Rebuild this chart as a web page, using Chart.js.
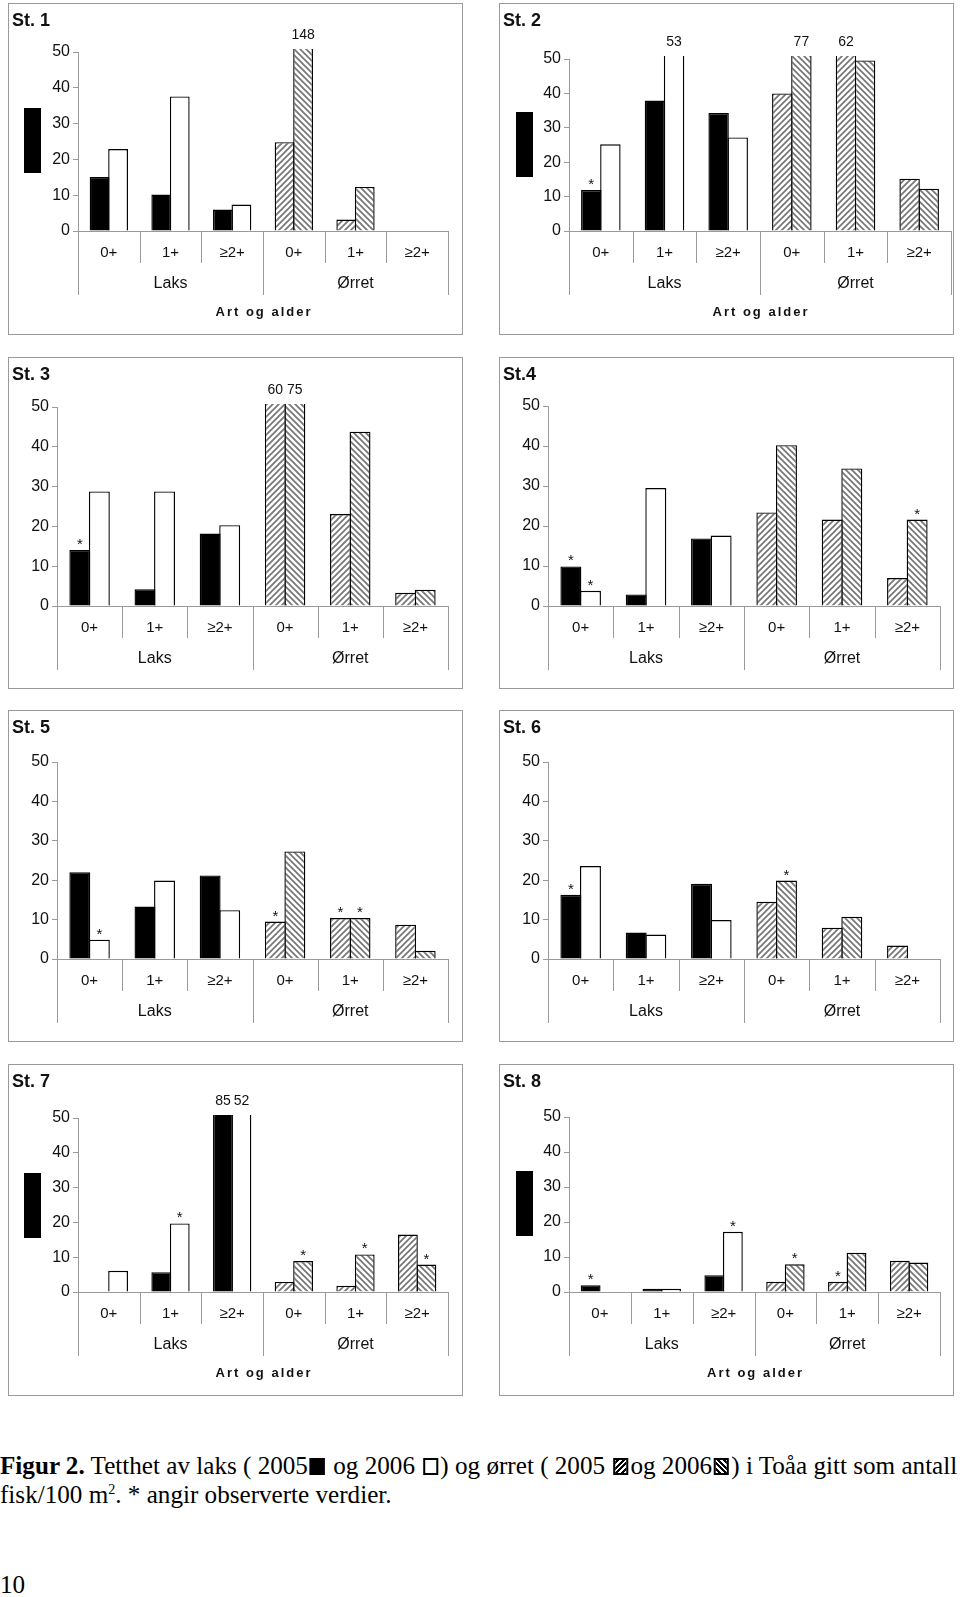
<!DOCTYPE html>
<html>
<head>
<meta charset="utf-8">
<script src="https://cdn.jsdelivr.net/npm/chart.js@4.4.0/dist/chart.umd.min.js"></script>
<style>
html, body { margin: 0; padding: 0; background: #fff; }
#page { position: relative; width: 960px; height: 1597px; overflow: hidden; font-family: Arial, "Liberation Sans", sans-serif; }
.panel { position: absolute; width: 455px; height: 332px; background: #fff; }
.panel canvas { position: absolute; left: 0; top: 0; }
.frame { position: absolute; left: 0; top: 0; width: 455px; height: 332px; box-sizing: border-box; border: 1px solid #9a9a9a; pointer-events: none; }
.stname { position: absolute; left: 4px; top: 7px; font: bold 18px Arial, "Liberation Sans", sans-serif; color: #111; }
.blot { position: absolute; background: #000; width: 17px; height: 65px; }
#caption { position: absolute; left: 0; top: 1451px; font-family: "Liberation Serif", "Times New Roman", serif; font-size: 25px; line-height: 29px; white-space: nowrap; transform-origin: 0 0; color: #000; }
#caption sup { font-size: 14px; line-height: 0; }
.sw { display: inline-block; width: 15px; height: 17px; box-sizing: border-box; border: 2px solid #000; vertical-align: -1px; margin: 0 2px; }
.sw-black { background: #000; }
.sw-white { background: #fff; }
.sw-h1 { background: repeating-linear-gradient(-45deg, #fff 0 2px, #000 2px 4px); }
.sw-h2 { background: repeating-linear-gradient(45deg, #fff 0 2px, #000 2px 4px); }
#pageno { position: absolute; left: 0; top: 1570px; font-family: "Liberation Serif", "Times New Roman", serif; font-size: 25px; line-height: 29px; transform-origin: 0 0; }
</style>
</head>
<body>
<div id="page">
  <div id="caption">
    <div id="cap1"><b>Figur 2.</b> Tetthet av laks ( 2005<span class="sw sw-black"></span> og 2006 <span class="sw sw-white"></span>) og ørret ( 2005 <span class="sw sw-h1"></span>og 2006<span class="sw sw-h2"></span>) i Toåa gitt som antall</div>
    <div>fisk/100 m<sup>2</sup>. * angir observerte verdier.</div>
  </div>
  <div id="pageno">10</div>
</div>
<script>
// ============ Data ============
const ageLabels = ['0+', '1+', '≥2+', '0+', '1+', '≥2+'];
const speciesLabels = ['Laks', 'Ørret'];
const yearLabels = ['2005', '2006'];
const stationNames = ['St. 1', 'St. 2', 'St. 3', 'St.4', 'St. 5', 'St. 6', 'St. 7', 'St. 8'];
const axisTitle = 'Art og alder';
const yTicks = [0, 10, 20, 30, 40, 50];

// density (fish/100 m2), one value per age class
const st1_2005 = [15.1, 10.2, 6.0, 24.8, 3.2, null];
const st1_2006 = [22.9, 37.6, 7.4, 148, 12.3, null];
const st2_2005 = [11.9, 37.9, 34.3, 40.0, 62, 15.2];
const st2_2006 = [25.2, 53, 27.2, 77, 49.6, 12.3];
const st3_2005 = [14.1, 4.2, 18.2, 60, 23.1, 3.3];
const st3_2006 = [28.8, 28.8, 20.3, 75, 43.8, 4.1];
const st4_2005 = [9.9, 2.9, 16.9, 23.4, 21.6, 7.0];
const st4_2006 = [3.8, 29.5, 17.6, 40.2, 34.4, 21.6];
const st5_2005 = [22.0, 13.3, 21.2, 9.5, 10.4, 8.7];
const st5_2006 = [4.9, 19.9, 12.4, 27.3, 10.4, 2.1];
const st6_2005 = [16.3, 6.7, 19.1, 14.5, 7.9, 3.4];
const st6_2006 = [23.6, 6.2, 9.9, 19.9, 10.7, null];
const st7_2005 = [null, 5.7, 85, 2.9, 1.8, 16.5];
const st7_2006 = [6.1, 19.7, 52, 8.9, 10.8, 7.9];
const st8_2005 = [1.9, 0.9, 4.8, 2.9, 2.9, 8.9];
const st8_2006 = [null, 0.9, 17.2, 7.9, 11.2, 8.4];

// indices of observed values (marked *) for [2005, 2006]
const st1_obs = [[], []];
const st2_obs = [[0], []];
const st3_obs = [[0], []];
const st4_obs = [[0], [0, 5]];
const st5_obs = [[3, 4], [0, 4]];
const st6_obs = [[0], [3]];
const st7_obs = [[], [1, 3, 4, 5]];
const st8_obs = [[0, 4], [2, 3]];

const stationData = [
    [st1_2005, st1_2006, st1_obs],
    [st2_2005, st2_2006, st2_obs],
    [st3_2005, st3_2006, st3_obs],
    [st4_2005, st4_2006, st4_obs],
    [st5_2005, st5_2006, st5_obs],
    [st6_2005, st6_2006, st6_obs],
    [st7_2005, st7_2006, st7_obs],
    [st8_2005, st8_2006, st8_obs]
];

// ============ Layout ============
const PANEL_W = 455, PANEL_H = 332;
// panel box, plot rect [left, right, top, bottom] inside the panel, title, black blot
const panelLayout = [
    { x: 8,   y: 3,    plot: [70, 440, 49, 228], title: true,  blot: [16, 105] },
    { x: 499, y: 3,    plot: [70, 452, 56, 228], title: true,  blot: [17, 109] },
    { x: 8,   y: 357,  plot: [49, 440, 50, 249], title: false },
    { x: 499, y: 357,  plot: [49, 441, 49, 249], title: false },
    { x: 8,   y: 710,  plot: [49, 440, 52, 249], title: false },
    { x: 499, y: 710,  plot: [49, 441, 52, 249], title: false },
    { x: 8,   y: 1064, plot: [70, 440, 54, 228], title: true,  blot: [16, 109] },
    { x: 499, y: 1064, plot: [70, 441, 53, 228], title: true,  blot: [17, 107] }
];

const AXIS_GRAY = '#9a9a9a';
const TEXT = '#111';
const FONT = 'Arial, "Liberation Sans", sans-serif';

// ============ Patterns ============
function makeHatch(forward) {
    const c = document.createElement('canvas');
    c.width = 6; c.height = 6;
    const g = c.getContext('2d');
    g.fillStyle = '#fff';
    g.fillRect(0, 0, 6, 6);
    g.strokeStyle = '#767676';
    g.lineWidth = 1.7;
    g.beginPath();
    if (forward) {
        g.moveTo(-1, 7); g.lineTo(7, -1);
        g.moveTo(-1, 1); g.lineTo(1, -1);
        g.moveTo(5, 7); g.lineTo(7, 5);
    } else {
        g.moveTo(-1, -1); g.lineTo(7, 7);
        g.moveTo(5, -1); g.lineTo(7, 1);
        g.moveTo(-1, 5); g.lineTo(1, 7);
    }
    g.stroke();
    return g.createPattern(c, 'repeat');
}

// ============ Decoration plugin ============
const decorPlugin = {
    id: 'decor',
    afterDraw(chart, args, opts) {
        const { ctx, chartArea: a, scales: { x, y } } = chart;
        const n = chart.data.labels.length;
        ctx.save();

        // category separators below the axis
        ctx.strokeStyle = AXIS_GRAY;
        ctx.lineWidth = 1;
        for (let i = 0; i <= n; i++) {
            const px = Math.round(x.getPixelForValue(i - 0.5)) + 0.5;
            const len = i % 3 === 0 ? 64 : 32;
            ctx.beginPath();
            ctx.moveTo(px, a.bottom);
            ctx.lineTo(px, a.bottom + len);
            ctx.stroke();
        }

        // species row
        ctx.fillStyle = TEXT;
        ctx.textAlign = 'center';
        ctx.textBaseline = 'middle';
        ctx.font = '16px ' + FONT;
        speciesLabels.forEach((s, k) => {
            ctx.fillText(s, x.getPixelForValue(k * 3 + 1), a.bottom + 53);
        });

        // axis title
        if (opts.title) {
            ctx.font = 'bold 13px ' + FONT;
            ctx.letterSpacing = '2px';
            ctx.fillText(axisTitle, (a.left + a.right) / 2 + 1, a.bottom + 81);
            ctx.letterSpacing = '0px';
        }

        // values above the axis max, and observed-value stars
        chart.data.datasets.forEach((ds, d) => {
            const meta = chart.getDatasetMeta(d);
            ctx.font = '14px ' + FONT;
            ds.data.forEach((v, i) => {
                if (v === null) return;
                const el = meta.data[i];
                if (v > y.max) {
                    ctx.textBaseline = 'middle';
                    ctx.fillText(String(v), el.x, a.top - 17);
                }
            });
            ctx.font = '15px ' + FONT;
            (opts.obs[d] || []).forEach(i => {
                const el = meta.data[i];
                ctx.textBaseline = 'alphabetic';
                ctx.fillText('*', el.x, Math.max(el.y, a.top) - 1);
            });
        });
        ctx.restore();
    }
};

// ============ Build panels ============
const hatch2005 = makeHatch(true);
const hatch2006 = makeHatch(false);
const fills2005 = ['#000', '#000', '#000', hatch2005, hatch2005, hatch2005];
const fills2006 = ['#fff', '#fff', '#fff', hatch2006, hatch2006, hatch2006];

function createDataset(label, data, fills) {
    return {
        label,
        data,
        backgroundColor: fills,
        borderColor: '#000',
        borderWidth: 1.4,
        borderSkipped: 'start',
        categoryPercentage: 0.6,
        barPercentage: 1.07,
        clip: { left: false, right: false, top: 3, bottom: false }
    };
}

function buildPanel(idx) {
    const lay = panelLayout[idx];
    const [v05, v06, obs] = stationData[idx];
    const page = document.getElementById('page');

    const div = document.createElement('div');
    div.className = 'panel';
    div.style.left = lay.x + 'px';
    div.style.top = lay.y + 'px';
    const canvas = document.createElement('canvas');
    canvas.width = PANEL_W;
    canvas.height = PANEL_H;
    div.appendChild(canvas);
    const frame = document.createElement('div');
    frame.className = 'frame';
    div.appendChild(frame);
    const name = document.createElement('div');
    name.className = 'stname';
    name.textContent = stationNames[idx];
    div.appendChild(name);
    if (lay.blot) {
        const b = document.createElement('div');
        b.className = 'blot';
        b.style.left = lay.blot[0] + 'px';
        b.style.top = lay.blot[1] + 'px';
        div.appendChild(b);
    }
    page.appendChild(div);

    const [pl, pr, pt, pb] = lay.plot;
    const Y_W = 30;

    new Chart(canvas.getContext('2d'), {
        type: 'bar',
        data: {
            labels: ageLabels,
            datasets: [
                createDataset(yearLabels[0], v05, fills2005),
                createDataset(yearLabels[1], v06, fills2006)
            ]
        },
        options: {
            responsive: false,
            animation: false,
            devicePixelRatio: 1,
            layout: { padding: { left: pl - Y_W, right: PANEL_W - pr, top: pt, bottom: 0 } },
            plugins: {
                legend: { display: false },
                tooltip: { enabled: false },
                decor: { title: lay.title, obs }
            },
            scales: {
                x: {
                    grid: { display: false, drawTicks: false },
                    border: { color: AXIS_GRAY, width: 1 },
                    ticks: {
                        color: TEXT,
                        font: { family: FONT, size: 15 },
                        padding: 13,
                        autoSkip: false,
                        maxRotation: 0
                    },
                    afterFit: (axis) => { axis.height = PANEL_H - pb; }
                },
                y: {
                    min: 0,
                    max: 50,
                    grid: { drawOnChartArea: false, drawTicks: true, tickLength: 5, color: AXIS_GRAY },
                    border: { color: AXIS_GRAY, width: 1 },
                    ticks: {
                        color: TEXT,
                        font: { family: FONT, size: 16 },
                        padding: 3,
                        stepSize: 10
                    },
                    afterBuildTicks: (axis) => {
                        axis.ticks = yTicks.map(v => ({ value: v }));
                    },
                    afterFit: (axis) => { axis.width = Y_W; }
                }
            }
        },
        plugins: [decorPlugin]
    });
}

stationNames.forEach((_, i) => buildPanel(i));

// fit caption's first line to the page width
const cap1 = document.getElementById('cap1');
const capScale = 957 / cap1.scrollWidth;
document.getElementById('caption').style.transform = 'scaleX(' + capScale + ')';
document.getElementById('pageno').style.transform = 'scaleX(' + capScale + ')';
</script>
</body>
</html>
